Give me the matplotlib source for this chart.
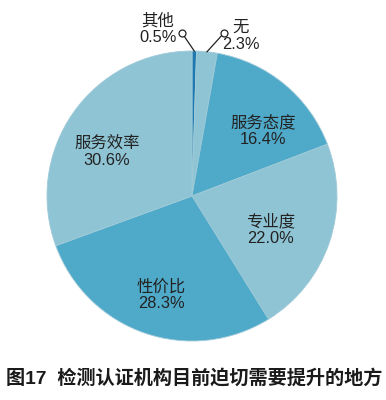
import matplotlib
matplotlib.use("Agg")
import matplotlib.pyplot as plt
import numpy as np

plt.rcParams['font.family'] = ['Liberation Sans', 'Noto Sans CJK SC', 'DejaVu Sans']

categories = ["其他", "无", "服务态度", "专业度", "性价比", "服务效率"]
values = [0.5, 2.3, 16.4, 22.0, 28.3, 30.6]
value_labels = ["0.5%", "2.3%", "16.4%", "22.0%", "28.3%", "30.6%"]
caption = "图17  检测认证机构目前迫切需要提升的地方"

colors = ["#1f78b0", "#8fc4d4", "#4fa9c9", "#8fc4d4", "#4fa9c9", "#8fc4d4"]

fig = plt.figure(figsize=(3.86, 4.0), dpi=100)
cx, cy, R = 192, 196, 145
ax = fig.add_axes([(cx - R) / 386, (400 - cy - R) / 400, 2 * R / 386, 2 * R / 400])
ax.pie(values, colors=colors, startangle=90, counterclock=False,
       wedgeprops=dict(linewidth=0.6, edgecolor="#9fcad8"))
ax.set_xlim(-1, 1)
ax.set_ylim(-1, 1)
ax.set_aspect('equal')
ax.axis('off')

def px(x, y):
    return ((x - cx) / R, (cy - y) / R)

# label positions (pixel coordinates of text centres)
label_pos = {
    "其他": (158, 29),
    "无": (241, 36),
    "服务态度": (263, 131),
    "专业度": (271, 230),
    "性价比": (161, 295),
    "服务效率": (107, 152),
}
for cat, vl in zip(categories, value_labels):
    x, y = px(*label_pos[cat])
    ax.text(x, y, f"{cat}\n{vl}", ha='center', va='center', fontsize=11.8,
            color="#222222", linespacing=1.15, clip_on=False)

# leader lines for small slices
cum = np.cumsum([0] + values)
tot = sum(values)
ends = {"其他": (182, 33), "无": (224, 33)}
for i, cat in enumerate(categories[:2]):
    mid = 90 - 360 * (cum[i] + values[i] / 2) / tot
    sx, sy = np.cos(np.radians(mid)), np.sin(np.radians(mid))
    ex, ey = px(*ends[cat])
    ax.plot([sx, ex], [sy, ey], color="#222222", lw=0.9, clip_on=False)
    ax.plot([ex], [ey], marker='o', ms=5, mfc='white', mec="#222222", mew=0.9, clip_on=False)

fig.text(6 / 386, 1 - 378 / 400, caption, ha='left', va='center', fontsize=13.8,
         fontweight='bold', color="#1a1a1a")

fig.savefig("out.png", dpi=100)
